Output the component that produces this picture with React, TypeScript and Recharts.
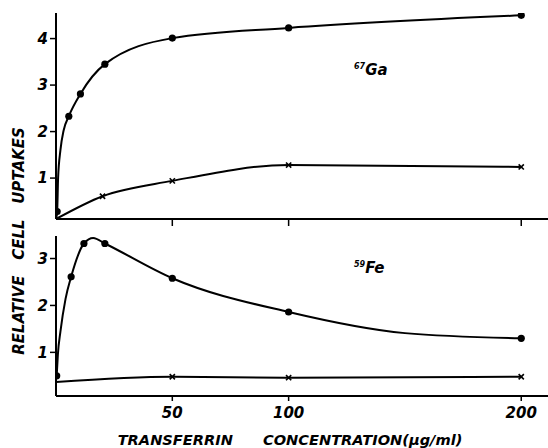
import React from "react";
import { LineChart, XAxis, YAxis, Line, Label } from "recharts";

// top panel, 67Ga (filled circles)
const gaX = [0.5, 5.5, 10.5, 21, 50, 100, 200];
const gaY = [0.28, 2.33, 2.81, 3.45, 4.01, 4.23, 4.5];
// extra points read along the drawn curve close to the origin
const gaCurveX = [0, 0.9, 1.9, 3.3];
const gaCurveY = [0.12, 1.0, 1.6, 2.03];
// top panel, crosses
const gaLowX = [0, 20, 50, 100, 200];
const gaLowY = [0.12, 0.61, 0.94, 1.28, 1.24];

// bottom panel, 59Fe (filled circles)
const feX = [0.3, 6.5, 12, 21, 50, 100, 200];
const feY = [0.5, 2.61, 3.32, 3.32, 2.58, 1.86, 1.3];
const feCurveX = [0.8, 1.9, 4.1, 16, 150];
const feCurveY = [0.95, 1.44, 2.14, 3.44, 1.41];
// bottom panel, crosses
const feLowX = [0, 50, 100, 200];
const feLowY = [0.37, 0.48, 0.46, 0.48];

const xTicks = [50, 100, 200];
const gaTicks = [1, 2, 3, 4];
const feTicks = [1, 2, 3];

const toRows = (xs: number[], ys: number[]) => xs.map((x, i) => ({ x, y: ys[i] }));
const merge = (a: { x: number; y: number }[], b: { x: number; y: number }[]) =>
  [...a, ...b].sort((p, q) => p.x - q.x);

const gaDots = toRows(gaX, gaY);
const gaCurve = merge(gaDots, toRows(gaCurveX, gaCurveY));
const gaLow = toRows(gaLowX, gaLowY);
const feDots = toRows(feX, feY);
const feCurve = merge(feDots, toRows(feCurveX, feCurveY));
const feLow = toRows(feLowX, feLowY);

const FONT = "'DejaVu Sans', sans-serif";
const tickStyle = {
  fill: "#000",
  fontSize: 15,
  fontFamily: FONT,
  fontWeight: "bold",
  fontStyle: "italic",
};

const Dot = (props: any) => {
  const { cx, cy, key } = props;
  return <circle key={key} cx={cx} cy={cy} r={3.6} fill="#000" />;
};

const Cross = (props: any) => {
  const { cx, cy, index, key } = props;
  if (index === 0) return <g key={key} />;
  const s = 2.6;
  return (
    <g key={key} stroke="#000" strokeWidth={1.6}>
      <line x1={cx - s} y1={cy - s} x2={cx + s} y2={cy + s} />
      <line x1={cx - s} y1={cy + s} x2={cx + s} y2={cy - s} />
    </g>
  );
};

const XTitle = (props: any) => {
  const vb = props.viewBox;
  return (
    <text
      x={vb.x + vb.width / 2 - 12}
      y={vb.y + vb.height - 3}
      textAnchor="middle"
      fill="#000"
      fontSize={14.6}
      fontFamily={FONT}
      fontWeight="bold"
      fontStyle="italic"
    >
      TRANSFERRIN
      <tspan dx={30}>CONCENTRATION(μg/ml)</tspan>
    </text>
  );
};

const axisLine = { stroke: "#000", strokeWidth: 2 };
const tickLine = { stroke: "#000", strokeWidth: 1.5 };

export default function App() {
  return (
    <div
      style={{
        position: "absolute",
        left: 0,
        top: 0,
        width: 548,
        height: 448,
        background: "#fff",
        fontFamily: FONT,
      }}
    >
      <div style={{ position: "absolute", left: 0, top: 0 }}>
        <LineChart width={548} height={230} margin={{ top: 13, right: 0, bottom: 0, left: 0 }}>
          <XAxis
            type="number"
            dataKey="x"
            domain={[0, 211.5]}
            ticks={xTicks}
            tickFormatter={() => ""}
            height={11}
            tickSize={7}
            axisLine={axisLine}
            tickLine={tickLine}
            allowDataOverflow
          />
          <YAxis
            type="number"
            domain={[0.12, 4.55]}
            ticks={gaTicks}
            width={56}
            tickSize={6}
            tickMargin={2}
            tick={tickStyle}
            axisLine={axisLine}
            tickLine={tickLine}
            allowDataOverflow
          />
          <Line data={gaCurve} dataKey="y" type="monotone" stroke="#000" strokeWidth={2} dot={false} isAnimationActive={false} />
          <Line data={gaDots} dataKey="y" stroke="none" dot={Dot} isAnimationActive={false} />
          <Line data={gaLow} dataKey="y" type="monotone" stroke="#000" strokeWidth={2} dot={Cross} isAnimationActive={false} />
        </LineChart>
      </div>
      <div style={{ position: "absolute", left: 0, top: 230 }}>
        <LineChart width={548} height={218} margin={{ top: 6, right: 0, bottom: 0, left: 0 }}>
          <XAxis
            type="number"
            dataKey="x"
            domain={[0, 211.5]}
            ticks={xTicks}
            height={52}
            tickSize={5}
            tickMargin={6}
            tick={tickStyle}
            axisLine={axisLine}
            tickLine={tickLine}
            allowDataOverflow
          >
            <Label content={XTitle} />
          </XAxis>
          <YAxis
            type="number"
            domain={[0.07, 3.48]}
            ticks={feTicks}
            width={56}
            tickSize={6}
            tickMargin={2}
            tick={tickStyle}
            axisLine={axisLine}
            tickLine={tickLine}
            allowDataOverflow
          />
          <Line data={feCurve} dataKey="y" type="monotone" stroke="#000" strokeWidth={2} dot={false} isAnimationActive={false} />
          <Line data={feDots} dataKey="y" stroke="none" dot={Dot} isAnimationActive={false} />
          <Line data={feLow} dataKey="y" type="monotone" stroke="#000" strokeWidth={2} dot={Cross} isAnimationActive={false} />
        </LineChart>
      </div>
      <div
        style={{
          position: "absolute",
          left: 19,
          top: 241,
          transform: "translate(-50%, -50%) rotate(-90deg)",
          whiteSpace: "pre",
          fontSize: 15,
          fontWeight: "bold",
          fontStyle: "italic",
          lineHeight: 1,
        }}
      >
        {"RELATIVE   CELL   UPTAKES"}
      </div>
      <div style={{ position: "absolute", left: 354, top: 63, fontSize: 15, fontWeight: "bold", fontStyle: "italic", lineHeight: 1 }}>
        <sup style={{ fontSize: 8 }}>67</sup>Ga
      </div>
      <div style={{ position: "absolute", left: 354, top: 261, fontSize: 15, fontWeight: "bold", fontStyle: "italic", lineHeight: 1 }}>
        <sup style={{ fontSize: 8 }}>59</sup>Fe
      </div>
    </div>
  );
}
